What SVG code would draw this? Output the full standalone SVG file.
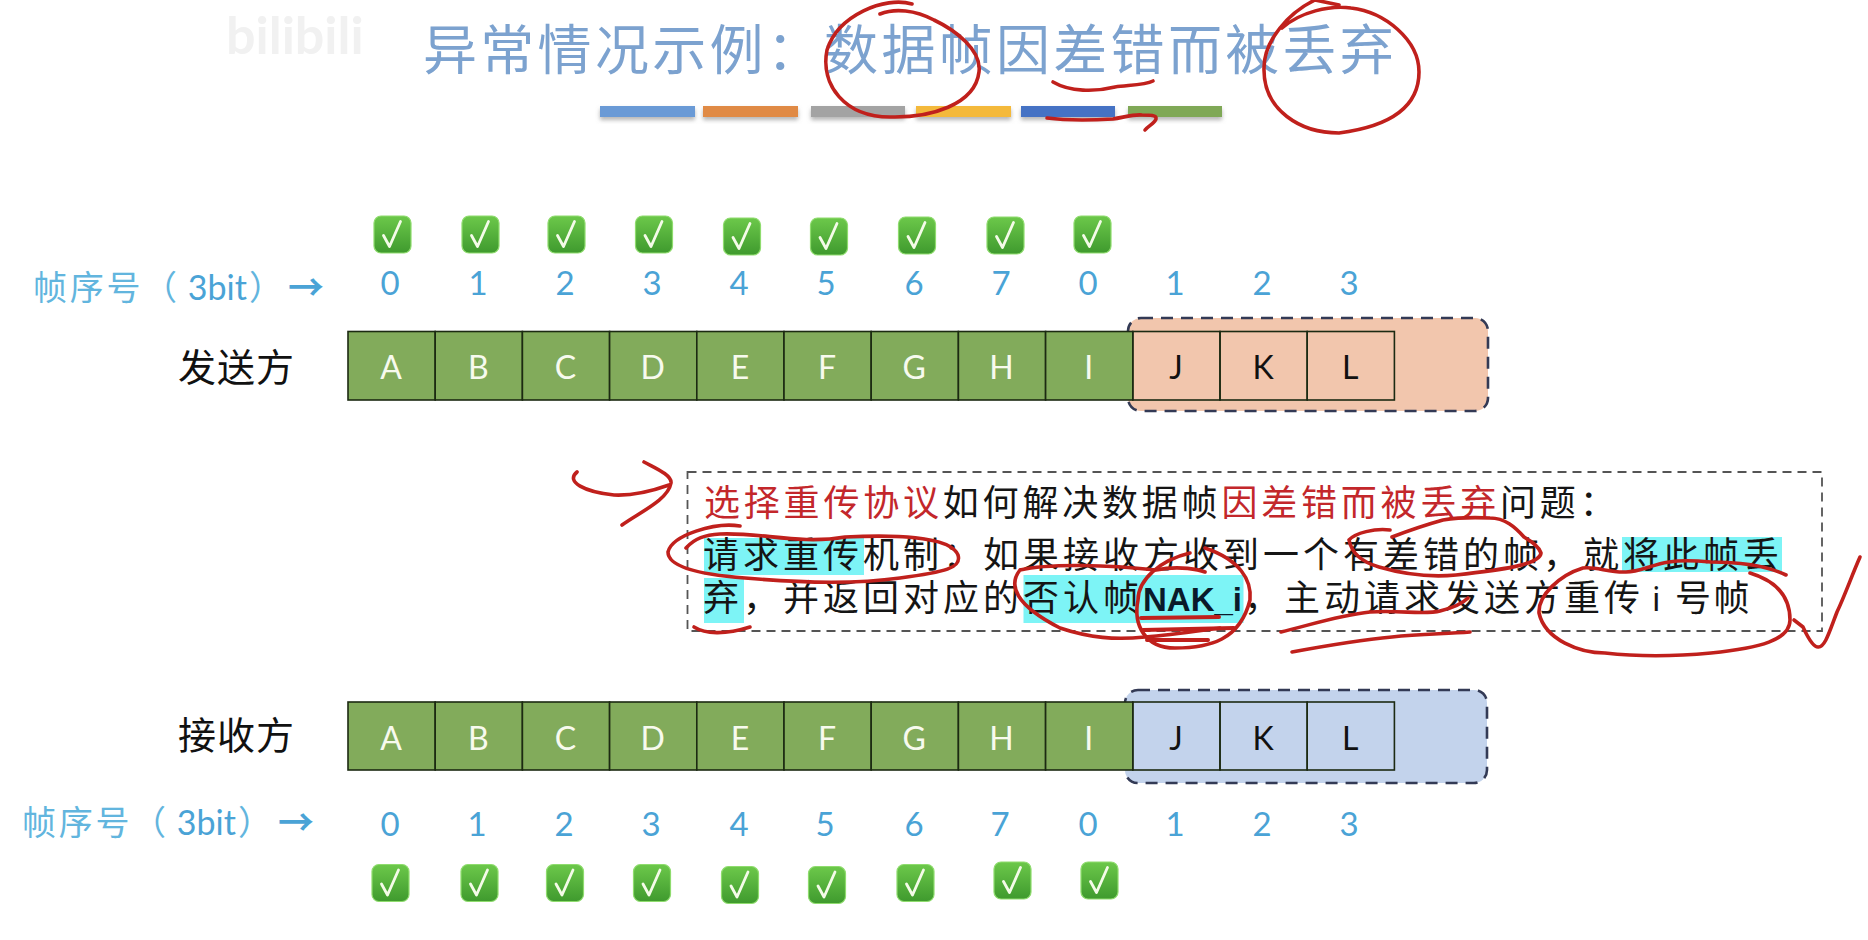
<svg xmlns="http://www.w3.org/2000/svg" width="1868" height="940" viewBox="0 0 1868 940">
<style>
.cjk{font-family:"Noto Sans CJK SC","Noto Sans",sans-serif}
.title{font-size:54px;letter-spacing:3.3px;fill:#7ca2cf}
.wm{font-family:"Lato",sans-serif;font-size:52px;font-weight:700;fill:#f1f1f1}
.seq{font-family:"Lato","Liberation Sans",sans-serif;font-size:33px;fill:#4aa3d6;text-anchor:middle}
.lab{font-size:34px;fill:#62b5de;letter-spacing:2.7px}
.lat{font-family:"Lato",sans-serif;font-size:34px;fill:#4aa3d6;letter-spacing:0}
.arr{font-size:36px;font-weight:700;fill:#4aa3d6}
.role{font-size:38px;fill:#111;letter-spacing:1px}
.cell{stroke:#1c2a12;stroke-width:1.6}
.done{fill:#82ab5b}
.let{font-family:"Lato","Liberation Sans",sans-serif;font-size:32px;text-anchor:middle}
.w{fill:#f7faee}.b{fill:#111}
.win{stroke:#333a55;stroke-width:2.6;stroke-dasharray:12 8}
.body{font-size:36px;letter-spacing:4px;fill:#151515}
.r{fill:#c3272b}
.hi{fill:#7df4f6}
.ink{fill:none;stroke:#c0201c;stroke-width:3.6;stroke-linecap:round;stroke-linejoin:round}
</style>
<defs>
<linearGradient id="g" x1="0" y1="0" x2="0" y2="1"><stop offset="0" stop-color="#6cc84a"/><stop offset="1" stop-color="#3f9a2e"/></linearGradient>
<filter id="sh" x="-5%" y="-30%" width="110%" height="190%"><feDropShadow dx="0" dy="3" stdDeviation="2" flood-color="#777" flood-opacity=".55"/></filter>
<g id="ok"><rect x="-18.500" y="-18.500" width="37" height="37" rx="7" fill="url(#g)" stroke="#8fdc6e" stroke-width="1.2"/><path d="M-9 1 L-3 12 L8 -13" fill="none" stroke="#f4fbe8" stroke-width="2.8" stroke-linejoin="round" stroke-linecap="round"/></g>
</defs>
<rect width="1868" height="940" fill="#fff"/>
<text class="wm" x="226" y="54">bilibili</text>
<g id="title"><text class="cjk title" x="423" y="70">异常情况示例：数据帧因差错而被丢弃</text></g>
<g id="title-bars" filter="url(#sh)">
<rect x="600" y="106" width="95" height="11" fill="#6a9ad6"/>
<rect x="703" y="106" width="95" height="11" fill="#e08a45"/>
<rect x="811" y="106" width="94" height="11" fill="#a3a3a3"/>
<rect x="916" y="106" width="95" height="11" fill="#f4b93a"/>
<rect x="1021" y="106" width="94" height="11" fill="#4472c4"/>
<rect x="1128" y="106" width="94" height="11" fill="#7fa856"/>
</g>
<g id="sender-checks">
<use href="#ok" x="392.500" y="234.500"/><use href="#ok" x="480.500" y="234.500"/><use href="#ok" x="566.500" y="234.500"/><use href="#ok" x="654" y="234.500"/><use href="#ok" x="742" y="236.500"/><use href="#ok" x="829" y="236.500"/><use href="#ok" x="917" y="235.500"/><use href="#ok" x="1005.500" y="235.500"/><use href="#ok" x="1092.500" y="234.500"/>
</g>
<g id="sender-seq-label"><text class="cjk lab" x="33" y="300">帧序号（<tspan class="lat" dx="8">3bit</tspan><tspan dx="2">）</tspan></text><text class="cjk arr" x="288" y="301">→</text></g>
<g id="sender-seq"><text class="seq" x="390" y="295">0</text><text class="seq" x="478" y="295">1</text><text class="seq" x="565" y="295">2</text><text class="seq" x="652" y="295">3</text><text class="seq" x="739" y="295">4</text><text class="seq" x="826" y="295">5</text><text class="seq" x="914" y="295">6</text><text class="seq" x="1001" y="295">7</text><text class="seq" x="1088" y="295">0</text><text class="seq" x="1175" y="295">1</text><text class="seq" x="1262" y="295">2</text><text class="seq" x="1349" y="295">3</text></g>
<g id="sender-label"><text class="cjk role" x="178" y="381">发送方</text></g>
<g id="sender-window"><rect class="win" x="1128" y="318" width="360" height="93" rx="13" fill="#f2c6ad"/></g>
<g id="sender-A"><rect class="cell done" x="348" y="331.500" width="87.200" height="68.500"/><text class="let w" x="391" y="379">A</text></g>
<g id="sender-B"><rect class="cell done" x="435.200" y="331.500" width="87.200" height="68.500"/><text class="let w" x="478.300" y="379">B</text></g>
<g id="sender-C"><rect class="cell done" x="522.400" y="331.500" width="87.200" height="68.500"/><text class="let w" x="565.500" y="379">C</text></g>
<g id="sender-D"><rect class="cell done" x="609.600" y="331.500" width="87.200" height="68.500"/><text class="let w" x="652.700" y="379">D</text></g>
<g id="sender-E"><rect class="cell done" x="696.800" y="331.500" width="87.200" height="68.500"/><text class="let w" x="739.900" y="379">E</text></g>
<g id="sender-F"><rect class="cell done" x="784" y="331.500" width="87.200" height="68.500"/><text class="let w" x="827.100" y="379">F</text></g>
<g id="sender-G"><rect class="cell done" x="871.200" y="331.500" width="87.200" height="68.500"/><text class="let w" x="914.300" y="379">G</text></g>
<g id="sender-H"><rect class="cell done" x="958.400" y="331.500" width="87.200" height="68.500"/><text class="let w" x="1001.500" y="379">H</text></g>
<g id="sender-I"><rect class="cell done" x="1045.600" y="331.500" width="87.200" height="68.500"/><text class="let w" x="1088.700" y="379">I</text></g>
<g id="sender-J"><rect class="cell" x="1132.800" y="331.500" width="87.200" height="68.500" fill="none"/><text class="let b" x="1175.900" y="379">J</text></g>
<g id="sender-K"><rect class="cell" x="1220" y="331.500" width="87.200" height="68.500" fill="none"/><text class="let b" x="1263.100" y="379">K</text></g>
<g id="sender-L"><rect class="cell" x="1307.200" y="331.500" width="87.200" height="68.500" fill="none"/><text class="let b" x="1350.300" y="379">L</text></g>
<g id="note">
<rect x="687.500" y="472" width="1134.500" height="159" fill="none" stroke="#555" stroke-width="1.8" stroke-dasharray="9 6"/>
<rect class="hi" x="704" y="538" width="160" height="37"/>
<rect class="hi" x="1622" y="537" width="160" height="35"/>
<rect class="hi" x="704" y="578" width="40" height="45"/>
<rect class="hi" x="1023.500" y="575" width="220" height="48"/>
<text class="cjk body" x="704" y="516" style="letter-spacing:3.8px"><tspan class="r">选择重传协议</tspan>如何解决数据帧<tspan class="r">因差错而被丢弃</tspan>问题：</text>
<text class="cjk body" x="703" y="568">请求重传机制：如果接收方收到一个有差错的帧，就将此帧丢</text>
<text class="cjk body" x="703" y="611">弃，并返回对应的否认帧</text>
<text x="1143" y="611" style="font-family:'Liberation Sans',sans-serif;font-size:33px;font-weight:700;fill:#0a1a2a">NAK_i</text>
<text class="cjk body" x="1244" y="611">，主动请求发送方重传</text>
<text x="1652" y="611" style="font-family:'Noto Sans',sans-serif;font-size:33px;fill:#151515">i</text>
<text class="cjk body" x="1675" y="611" style="letter-spacing:2.5px">号帧</text>
</g>
<g id="receiver-window"><rect class="win" x="1125" y="690" width="362" height="93" rx="13" fill="#c3d3ec"/></g>
<g id="receiver-label"><text class="cjk role" x="178" y="749">接收方</text></g>
<g id="receiver-A"><rect class="cell done" x="348" y="702" width="87.200" height="68"/><text class="let w" x="391" y="750">A</text></g>
<g id="receiver-B"><rect class="cell done" x="435.200" y="702" width="87.200" height="68"/><text class="let w" x="478.300" y="750">B</text></g>
<g id="receiver-C"><rect class="cell done" x="522.400" y="702" width="87.200" height="68"/><text class="let w" x="565.500" y="750">C</text></g>
<g id="receiver-D"><rect class="cell done" x="609.600" y="702" width="87.200" height="68"/><text class="let w" x="652.700" y="750">D</text></g>
<g id="receiver-E"><rect class="cell done" x="696.800" y="702" width="87.200" height="68"/><text class="let w" x="739.900" y="750">E</text></g>
<g id="receiver-F"><rect class="cell done" x="784" y="702" width="87.200" height="68"/><text class="let w" x="827.100" y="750">F</text></g>
<g id="receiver-G"><rect class="cell done" x="871.200" y="702" width="87.200" height="68"/><text class="let w" x="914.300" y="750">G</text></g>
<g id="receiver-H"><rect class="cell done" x="958.400" y="702" width="87.200" height="68"/><text class="let w" x="1001.500" y="750">H</text></g>
<g id="receiver-I"><rect class="cell done" x="1045.600" y="702" width="87.200" height="68"/><text class="let w" x="1088.700" y="750">I</text></g>
<g id="receiver-J"><rect class="cell" x="1132.800" y="702" width="87.200" height="68" fill="none"/><text class="let b" x="1175.900" y="750">J</text></g>
<g id="receiver-K"><rect class="cell" x="1220" y="702" width="87.200" height="68" fill="none"/><text class="let b" x="1263.100" y="750">K</text></g>
<g id="receiver-L"><rect class="cell" x="1307.200" y="702" width="87.200" height="68" fill="none"/><text class="let b" x="1350.300" y="750">L</text></g>
<g id="receiver-seq-label"><text class="cjk lab" x="22" y="835">帧序号（<tspan class="lat" dx="8">3bit</tspan><tspan dx="2">）</tspan></text><text class="cjk arr" x="278" y="836">→</text></g>
<g id="receiver-seq"><text class="seq" x="390" y="836">0</text><text class="seq" x="477" y="836">1</text><text class="seq" x="564" y="836">2</text><text class="seq" x="651" y="836">3</text><text class="seq" x="739" y="836">4</text><text class="seq" x="825" y="836">5</text><text class="seq" x="914" y="836">6</text><text class="seq" x="1000" y="836">7</text><text class="seq" x="1088" y="836">0</text><text class="seq" x="1175" y="836">1</text><text class="seq" x="1262" y="836">2</text><text class="seq" x="1349" y="836">3</text></g>
<g id="receiver-checks">
<use href="#ok" x="390.500" y="883"/><use href="#ok" x="479.500" y="883"/><use href="#ok" x="565" y="883"/><use href="#ok" x="652" y="883"/><use href="#ok" x="740" y="885"/><use href="#ok" x="827" y="885"/><use href="#ok" x="915.500" y="883"/><use href="#ok" x="1012.500" y="880.500"/><use href="#ok" x="1099.500" y="880.500"/>
</g>
<g id="connectors" class="ink">
<path d="M912 4C885 -4 838 15 827 50C820 85 845 117 890 117C930 118 975 105 979 72C982 50 955 30 934 20C915 10 895 8 880 14"/>
<path d="M1282 28C1300 12 1330 5 1351 8C1385 12 1419 40 1419 72C1419 100 1400 125 1339 133C1300 133 1264 110 1264 70C1263 40 1290 12 1315 0L1339 5"/>
<path d="M1053 82C1070 92 1095 92 1115 87C1130 85 1145 85 1153 81"/>
<path d="M1047 118C1070 121 1095 120 1113 119C1125 117 1135 114 1142 115C1150 115 1157 115 1156 119C1155 123 1148 126 1145 130"/>
<path d="M577 472C565 482 585 492 614 495C635 496 655 490 669 485M644 462C655 468 672 475 671 483C668 500 640 512 622 525"/>
<path d="M740 526C715 522 672 535 668 552C668 568 705 575 745 578C790 582 850 585 900 578C945 572 962 568 958 555C950 535 890 535 845 537C800 545 760 532 720 534C705 535 695 538 686 548"/>
<path d="M694 627C705 634 725 635 750 627"/>
<path d="M1020 570C1050 563 1110 565 1156 570C1180 565 1200 570 1205 572M1020 570C1008 585 1015 605 1060 628C1090 638 1115 640 1145 637C1170 635 1190 632 1220 628"/>
<path d="M1190 553C1160 560 1138 580 1138 600C1133 625 1145 648 1175 648C1210 648 1240 640 1250 600C1252 580 1240 560 1205 548"/>
<path d="M1141 618L1219 617M1143 630L1234 628M1147 640L1208 640" style="stroke-width:4"/>
<path d="M1281 632C1310 625 1340 615 1370 612C1400 610 1425 615 1440 611C1452 608 1462 604 1468 598"/>
<path d="M1292 652C1330 645 1360 640 1392 637C1420 634 1445 634 1470 632"/>
<path d="M1390 530C1375 528 1355 533 1349 540C1352 555 1365 563 1379 567C1410 576 1435 577 1456 575C1500 570 1540 565 1541 553C1538 545 1530 541 1524 537C1515 527 1505 518 1490 518C1470 517 1455 518 1443 520C1425 525 1405 532 1392 537"/>
<path d="M1786 575C1765 565 1740 562 1711 562C1690 560 1680 560 1669 562C1650 565 1640 572 1626 572C1610 573 1595 566 1583 568C1560 575 1538 595 1539 613C1545 640 1580 653 1605 653C1640 657 1680 656 1711 653C1760 648 1790 640 1790 620C1790 600 1780 582 1750 573"/>
<path d="M1794 620L1803 627C1808 638 1813 647 1818 647C1825 648 1830 630 1837 612C1845 595 1852 575 1860 557"/>
</g>
</svg>
